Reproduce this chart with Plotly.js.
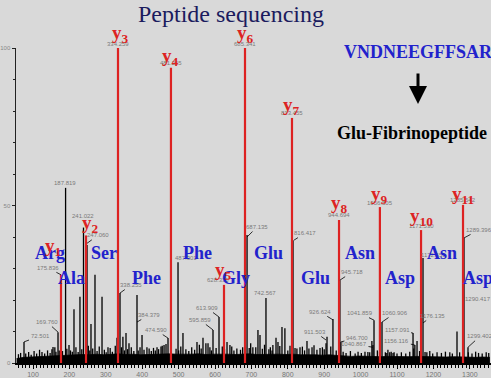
<!DOCTYPE html>
<html><head><meta charset="utf-8">
<script src="https://cdn.plot.ly/plotly-3.0.1.min.js"></script>
<style>html,body{margin:0;padding:0;background:#d9d9d9;}#chart{width:491px;height:378px;}</style>
</head><body><div id="chart"></div>
<script>
// ---------- DATA ----------
const yIonNames = ['1','2','3','4','5','6','7','8','9','10','11'];
const yIonMz = [176.9, 245.6, 333.5, 479.0, 624.7, 682.4, 811.5, 940.7, 1053.0, 1166.0, 1281.3];
const yIonInt = [28, 40.5, 100, 93.7, 24.8, 100, 77.8, 45.4, 49.5, 42.2, 50.2];
const yIonNumber = ['', '', '334.259', '481.265', '', '685.341', '813.455', '944.694', '1056.505', '1171.530', '1285.542'];

const peakMz = [75.3,124.7,155,168.7,189.5,198.9,212.6,229,238.7,248.4,259.3,270.3,289.6,306,330.8,339,347,355.5,363.7,385.7,399.5,413,440.7,451.6,460,465.4,470.9,498.4,512,550.5,567,575,580.8,594.5,611,633,641,688,704,718,723.6,740,756.6,759,767.6,773,784,792,814.3,819.8,833.5,852.7,866.5,888.5,905,907.7,924,943.1,945.9,1020,1031,1034,1036.8,1058.8,1072,1080,1089,1144,1149,1155,1171.4,1177,1264.8,1284,1295];
const peakInt = [6.7,3.5,5.1,9.8,55.6,5.7,17.1,21,43,37.5,12.4,28,21,5,8,22.2,8.3,9.5,6.3,21.6,8.9,5,5,5.2,5.7,6,7.9,32,9.5,6.7,8,6.3,6.3,10.5,14.6,6.7,5.7,40.6,5,10.5,8.9,20.6,4,5.7,8,6.7,11.4,11,39,4.8,5,7,5,4.8,6.3,8.3,14,26.3,6.7,3.5,7,5.7,13.6,13,3.2,3.4,3.2,9.5,5.7,7,33.3,3.5,10,39.7,5];

const noiseMz = [60,66,80,88,95,103,110,118,132,140,147,152,160,163,172,181,193,203,208,218,224,234,252,256,264,276,282,296,301,312,318,326,343,351,360,370,377,389,394,405,419,425,431,436,445,455,479,493,500,506,520,528,536,544,557,562,586,590,603,620,626,646,652,660,670,676,694,698,712,730,736,748,752,778,800,806,825,840,846,858,872,880,895,900,918,933,952,960,972,985,993,1002,1012,1025,1046,1052,1068,1075,1084,1092,1100,1112,1124,1135,1146,1162,1182,1190,1198,1210,1222,1233,1245,1252,1272,1296,1306,1316,1324,1334,1345,1352];
const noiseInt = [2.8,3.2,3,3.5,2.6,3.8,3,4.2,3,4,3.2,4.4,5,3.6,4,3.8,4.5,4,3.6,5,3.5,4.4,5.5,4,4.6,3.8,5.2,4.2,3.4,4.8,3.6,5.5,5,4,4.4,5,3.8,4,5,4.2,4.6,3.8,4.8,4,4.4,5.5,6,4.5,4,5.2,4.4,3.8,5,4.2,5.8,4.6,5,4,4.8,5.2,4.4,5.2,4,4.6,4.2,5,4.8,6.3,5,4.5,5.8,4.4,5,5.4,4,5.5,4.6,5.2,4,4.6,5.6,4.2,5,4.4,5.2,4,3.6,3.2,3.8,3,3.6,3.2,3.6,3.4,4,3.6,3.4,4.2,3.6,3.4,3,3.4,3,3.6,4.6,3.8,3.4,3.8,3,3.4,3.2,3.6,3.4,3,3.4,3.4,3,3.6,3.2,3,3.4,3.2];

const baseMz = [55,75,95,115,135,155,175,195,215,235,255,275,295,315,335,355,375,395,415,435,455,475,495,515,535,555,575,595,615,635,655,675,695,715,735,755,775,795,815,835,855,875,895,915,935,955,975,995,1015,1035,1055,1075,1095,1115,1135,1155,1175,1195,1215,1235,1255,1275,1295,1315,1335,1355];
const baseInt = [1.4,1.8,1.9,2.0,2.1,2.4,2.5,2.6,2.5,2.7,2.6,2.8,2.6,2.7,2.9,2.7,2.8,2.6,2.7,2.9,3.0,2.9,2.8,2.7,2.8,2.9,2.7,2.8,2.9,2.8,2.7,2.8,2.9,2.7,2.8,2.9,2.8,2.7,2.8,2.6,2.7,2.6,2.5,2.6,2.4,2.2,2.1,2.2,2.1,2.2,2.0,2.1,2.0,2.1,2.0,2.1,2.0,1.9,2.0,1.9,2.0,1.9,1.9,1.8,1.9,1.8];

const leaderText = ['72.501','169.760','175.836','247.060','338.255','384.379','474.590','487.301','595.859','613.909','687.135','816.417','911.503','926.624','945.718','946.700','1040.867','1041.859','1060.906','1157.091','1156.116','1172.551','1176.135','1289.396','1290.417','1299.402'];
const leaderMz = [75.3,168.7,176.9,248.4,339,385.7,470.9,498.4,594.5,611,688,817,905,924,943.1,945.9,1034,1036.8,1058.8,1144,1149,1171.4,1171.4,1284,1284,1295];
const leaderInt = [6.7,9.8,28,38,22.2,13,7.9,32,10.5,14.6,40,39,7.3,13.7,26.3,6.7,5,13.6,13,9.5,5.7,33.3,12.7,39.7,19,5];

const plainText = ['187.819','241.022','628.335','742.567'];
const plainMz = [189.5,238.7,624.7,740];
const plainInt = [55.6,43,24.8,20.6];

const residues = ['Arg','Ala','Ser','Phe','Phe','Gly','Glu','Glu','Asn','Asp','Asn','Asp'];
const residueMz = [147,207,295,413,553,657,748,875,998,1108,1223,1322];

const xTickVals = [100,200,300,400,500,600,700,800,900,1000,1100,1200,1300];
const yTickVals = [0,50,100];
const yTickText = ['0','50','100'];

// ---------- STYLE / POSITIONS (pixels) ----------
const leaderOffsets = [[16,-6],[-11,-10],[-13,-7],[11,-8],[11,-8],[12,-7],[-12,-8],[8,-4],[-13,-10],[-12,-9],[10,-10],[11,-7],[-11,-8],[-13,-8],[12,-8],[16,-4],[-19,-3],[-14,-7],[13,-9],[-16,-3],[-18,-4],[10,-3],[9,-7],[15,-8],[14,-4],[12,-11]];
const plainOffsets = [[-1,-5],[0,-12],[-6,-5],[-1,-5]];
const yLabelShift = [[-8,28],[4,11],[2,14],[0,11],[-1,14],[0,14],[0,12],[0,16],[0,12],[0,13],[0,10]];
const residueRowLevel = [34.9, 27];

const RED = '#dd2222', BLUE = '#2222cc', GREY = '#7a7a7a';

function sticks(mz, h){
  const xs=[], ys=[];
  mz.forEach((m,i)=>{ xs.push(m,m,null); ys.push(0,h[i],null); });
  return {xs, ys};
}
const blk = sticks(peakMz.concat(noiseMz), peakInt.concat(noiseInt));
const red = sticks(yIonMz, yIonInt);

const traces = [
  {x: baseMz, y: baseInt, type:'scatter', mode:'lines', fill:'tozeroy', fillcolor:'#000', line:{color:'#000', width:0.8}, hoverinfo:'skip'},
  {x: blk.xs, y: blk.ys, type:'scatter', mode:'lines', line:{color:'#000', width:1.3}, connectgaps:false, hoverinfo:'skip'},
  {x: red.xs, y: red.ys, type:'scatter', mode:'lines', line:{color:RED, width:2.2}, connectgaps:false, hoverinfo:'skip'}
];

const ann = [];
const smallFont = {family:'Liberation Sans, Arial, sans-serif', size:6, color:GREY};
leaderText.forEach((t,i)=>{
  ann.push({x:leaderMz[i], y:leaderInt[i], xref:'x', yref:'y', text:t, showarrow:true,
    ax:leaderOffsets[i][0], ay:leaderOffsets[i][1], axref:'pixel', ayref:'pixel',
    arrowhead:0, arrowwidth:0.8, arrowcolor:'#000', standoff:0, startstandoff:0, font:smallFont});
});
plainText.forEach((t,i)=>{
  ann.push({x:plainMz[i], y:plainInt[i], xref:'x', yref:'y', text:t, showarrow:false,
    xanchor:'center', yanchor:'middle',
    xshift:plainOffsets[i][0], yshift:-plainOffsets[i][1], font:smallFont});
});
// residue labels
residues.forEach((r,i)=>{
  ann.push({x:residueMz[i], y:residueRowLevel[i%2], xref:'x', yref:'y', text:'<b>'+r+'</b>', showarrow:false,
    xanchor:'center', yanchor:'middle',
    font:{family:'Liberation Serif, Times New Roman, serif', size:18, color:BLUE}});
});
// y-ion numbers and labels
yIonNames.forEach((n,i)=>{
  if (yIonNumber[i]) ann.push({x:yIonMz[i], y:yIonInt[i], xref:'x', yref:'y', text:yIonNumber[i], showarrow:false,
    xanchor:'center', yanchor:'middle', yshift:4.5, font:smallFont});
  ann.push({x:yIonMz[i], y:yIonInt[i], xref:'x', yref:'y', text:'<b>y<sub>'+n+'</sub></b>', showarrow:false,
    xanchor:'center', yanchor:'middle',
    xshift:yLabelShift[i][0], yshift:yLabelShift[i][1], font:{family:'Liberation Serif, Times New Roman, serif', size:19, color:RED}});
});
// side texts
const px = v => (v-16)/475, py = v => (363-v)/315;
ann.push({x:px(418), y:py(52), xref:'paper', yref:'paper', xanchor:'center', yanchor:'middle', text:'<b>VNDNEEGFFSAR</b>', showarrow:false,
  font:{family:'Liberation Serif, Times New Roman, serif', size:18, color:BLUE}});
ann.push({x:px(418), y:py(104), xref:'paper', yref:'paper', text:'', showarrow:true, ax:0, ay:-32,
  arrowhead:2, arrowsize:1.2, arrowwidth:3, arrowcolor:'#000'});
ann.push({x:px(412), y:py(133), xref:'paper', yref:'paper', xanchor:'center', yanchor:'middle', text:'<b>Glu-Fibrinopeptide</b>', showarrow:false,
  font:{family:'Liberation Serif, Times New Roman, serif', size:18, color:'#000'}});

const layout = {
  width:491, height:378,
  margin:{l:16, r:0, t:48, b:15, pad:0},
  paper_bgcolor:'#d9d9d9', plot_bgcolor:'#d9d9d9',
  showlegend:false,
  title:{text:'Peptide sequencing', font:{family:'Liberation Serif, Times New Roman, serif', size:24, color:'#1b1b5e'},
    x:231/491, xref:'container', xanchor:'center', y:1-14/378, yref:'container', yanchor:'middle'},
  xaxis:{range:[53.3,1358.2], showgrid:false, zeroline:false, showline:true, linecolor:'#000', linewidth:2,
    ticks:'outside', ticklen:4, tickwidth:1, tickcolor:'#000', tickvals:xTickVals,
    tickfont:{family:'Liberation Sans, Arial, sans-serif', size:7, color:'#777'},
    minor:{dtick:10, ticks:'outside', ticklen:3, tickwidth:1, tickcolor:'#000'}, fixedrange:true},
  yaxis:{range:[0,100], showgrid:false, zeroline:false, showline:true, linecolor:'#222', linewidth:1.5,
    ticks:'outside', ticklen:3, tickwidth:1, tickcolor:'#222', tickvals:yTickVals, ticktext:yTickText,
    tickfont:{family:'Liberation Sans, Arial, sans-serif', size:6, color:'#888'},
    minor:{dtick:10, ticks:'outside', ticklen:2, tickwidth:1, tickcolor:'#222'}, fixedrange:true},
  annotations: ann
};
Plotly.newPlot('chart', traces, layout, {displayModeBar:false, staticPlot:true});
</script></body></html>
